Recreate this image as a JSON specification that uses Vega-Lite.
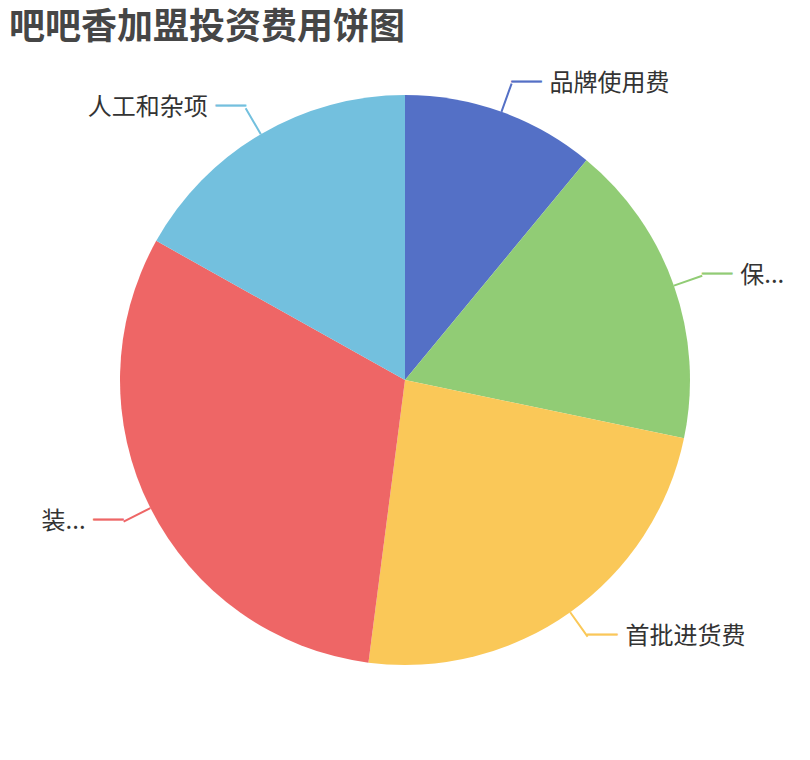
{
  "$schema": "https://vega.github.io/schema/vega-lite/v6.json",
  "width": 810,
  "height": 760,
  "autosize": "none",
  "padding": 0,
  "background": "white",
  "title": {
    "text": "吧吧香加盟投资费用饼图",
    "anchor": "start",
    "frame": "group",
    "font": "Noto Sans CJK SC",
    "fontSize": 36,
    "fontWeight": "bold",
    "color": "#464646",
    "offset": -47,
    "dx": 9
  },
  "data": {
    "values": [
      {"idx": 1, "name": "品牌使用费", "label": "品牌使用费", "value": 11.0, "side": "R"},
      {"idx": 2, "name": "保证金", "label": "保...", "value": 17.3, "side": "R"},
      {"idx": 3, "name": "首批进货费", "label": "首批进货费", "value": 23.8, "side": "R"},
      {"idx": 4, "name": "装修费", "label": "装...", "value": 31.1, "side": "L"},
      {"idx": 5, "name": "人工和杂项", "label": "人工和杂项", "value": 16.9, "side": "L"}
    ]
  },
  "encoding": {
    "theta": {"field": "value", "type": "quantitative", "stack": true},
    "order": {"field": "idx", "type": "quantitative"},
    "color": {
      "field": "name",
      "type": "nominal",
      "scale": {
        "domain": ["品牌使用费", "保证金", "首批进货费", "装修费", "人工和杂项"],
        "range": ["#5470c6", "#91cc75", "#fac858", "#ee6666", "#73c0de"]
      },
      "legend": null
    }
  },
  "layer": [
    {"mark": {"type": "arc", "radius": 285}},
    {
      "mark": {
        "type": "arc",
        "radius": 315,
        "radius2": 285,
        "padAngle": 1.4,
        "filled": false,
        "strokeWidth": 2
      }
    },
    {
      "mark": {
        "type": "text",
        "radius": 315,
        "text": "─",
        "font": "Noto Sans CJK SC",
        "fontSize": 30,
        "strokeWidth": 0.8,
        "baseline": "middle",
        "align": {"expr": "datum.side == 'R' ? 'left' : 'right'"}
      },
      "encoding": {
        "stroke": {
          "field": "name",
          "type": "nominal",
          "scale": {
            "domain": ["品牌使用费", "保证金", "首批进货费", "装修费", "人工和杂项"],
            "range": ["#5470c6", "#91cc75", "#fac858", "#ee6666", "#73c0de"]
          },
          "legend": null
        }
      }
    },
    {
      "mark": {
        "type": "text",
        "radius": 315,
        "font": "Noto Sans CJK SC",
        "fontSize": 24,
        "baseline": "middle",
        "align": {"expr": "datum.side == 'R' ? 'left' : 'right'"},
        "dx": {"expr": "datum.side == 'R' ? 38 : -38"}
      },
      "encoding": {
        "text": {"field": "label"},
        "color": {"value": "#333333"}
      }
    }
  ]
}
